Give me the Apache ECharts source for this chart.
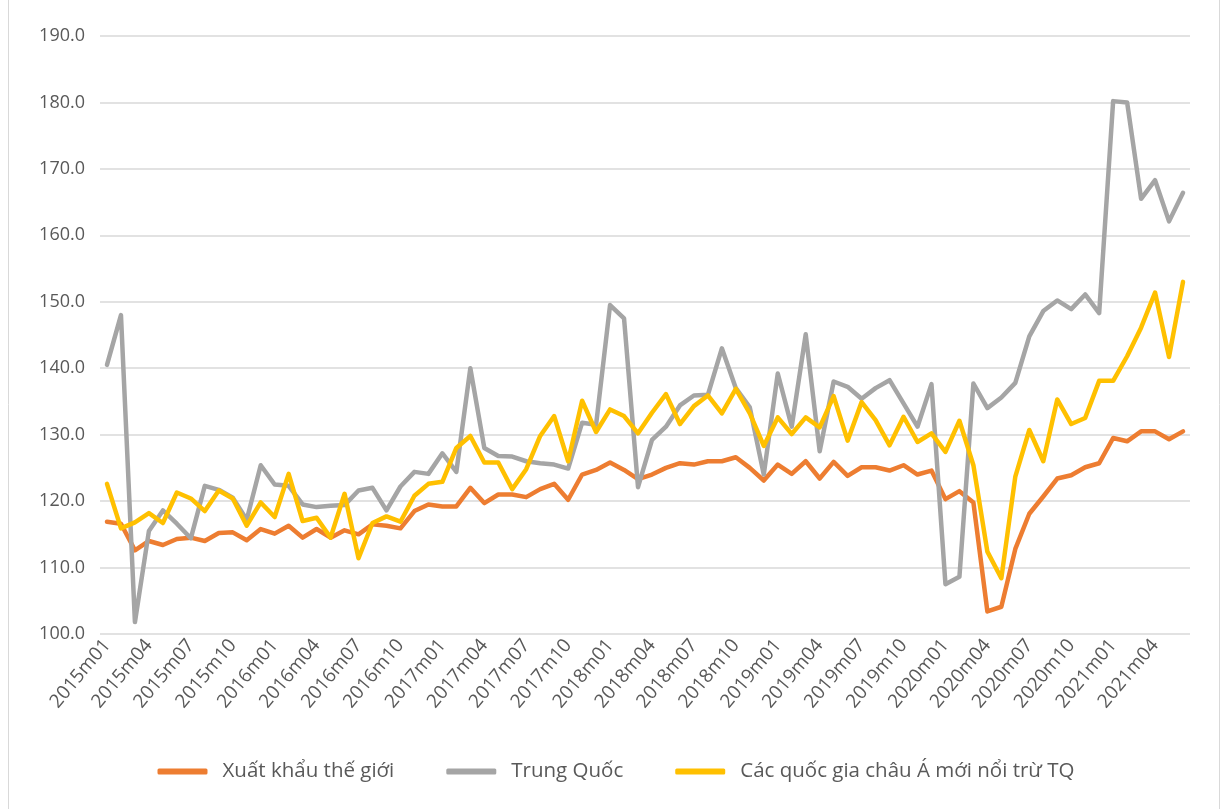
<!DOCTYPE html>
<html>
<head>
<meta charset="utf-8">
<script src="https://cdn.jsdelivr.net/npm/echarts@6/dist/echarts.min.js"></script>
<style>
  html, body { margin: 0; padding: 0; background: #fff; }
  #chart { width: 1232px; height: 809px; }
</style>
</head>
<body>
<div id="chart"></div>
<script>
// thang: 2015m01 .. 2021m06
const months = [];
for (let y = 2015; y <= 2021; y++) {
  for (let m = 1; m <= 12; m++) {
    if (y === 2021 && m > 6) break;
    months.push(y + 'm' + (m < 10 ? '0' + m : m));
  }
}

const seriesNames = ['Xuất khẩu thế giới', 'Trung Quốc', 'Các quốc gia châu Á mới nổi trừ TQ'];

const worldExport = [
  116.9, 116.6, 112.6, 114.0, 113.4, 114.3, 114.5, 114.0, 115.2, 115.3,
  114.1, 115.8, 115.1, 116.3, 114.5, 115.8, 114.5, 115.6, 115.0, 116.5,
  116.3, 115.9, 118.5, 119.5, 119.2, 119.2, 122.0, 119.7, 121.0, 121.0,
  120.6, 121.8, 122.6, 120.2, 124.0, 124.7, 125.8, 124.7, 123.3, 124.0,
  125.0, 125.7, 125.5, 126.0, 126.0, 126.6, 125.0, 123.1, 125.5, 124.1,
  126.0, 123.4, 125.9, 123.8, 125.1, 125.1, 124.6, 125.4, 124.0, 124.6,
  120.3, 121.5, 119.8, 103.4, 104.1, 112.8, 118.1, 120.7, 123.4, 123.9,
  125.1, 125.7, 129.5, 129.0, 130.5, 130.5, 129.3, 130.5
];

const china = [
  140.5, 148.0, 101.8, 115.5, 118.6, 116.6, 114.4, 122.3, 121.7, 120.5,
  117.2, 125.4, 122.5, 122.3, 119.5, 119.1, 119.3, 119.4, 121.6, 122.0,
  118.6, 122.2, 124.4, 124.1, 127.2, 124.4, 140.0, 128.0, 126.8, 126.7,
  126.0, 125.7, 125.5, 124.9, 131.8, 131.5, 149.5, 147.5, 122.1, 129.2,
  131.2, 134.4, 135.9, 136.0, 143.0, 137.0, 134.1, 124.0, 139.2, 131.2,
  145.1, 127.5, 138.0, 137.2, 135.4, 137.0, 138.2, 134.7, 131.2, 137.6,
  107.5, 108.6, 137.7, 134.0, 135.6, 137.8, 144.8, 148.6, 150.2, 148.9,
  151.1, 148.3, 180.2, 180.0, 165.5, 168.3, 162.1, 166.4
];

const asiaExChina = [
  122.6, 115.9, 116.8, 118.2, 116.7, 121.3, 120.4, 118.5, 121.6, 120.4,
  116.3, 119.8, 117.6, 124.1, 117.0, 117.5, 114.5, 121.1, 111.4, 116.7,
  117.7, 116.9, 120.8, 122.6, 122.9, 128.0, 129.8, 125.8, 125.8, 121.8,
  124.8, 129.8, 132.8, 126.0, 135.1, 130.4, 133.8, 132.8, 130.2, 133.3,
  136.1, 131.6, 134.3, 135.9, 133.2, 136.9, 133.2, 128.3, 132.6, 130.1,
  132.6, 131.1, 135.8, 129.1, 134.9, 132.2, 128.4, 132.7, 128.9, 130.2,
  127.4, 132.1, 125.4, 112.4, 108.4, 123.7, 130.7, 126.0, 135.3, 131.6,
  132.5, 138.1, 138.1, 141.8, 146.1, 151.4, 141.7, 153.0
];

const colors = ['#ED7D31', '#A5A5A5', '#FFC000'];
const fontFamily = '"Open Sans", "Noto Sans", sans-serif';
const textColor = '#595959';

const chart = echarts.init(document.getElementById('chart'), null, { renderer: 'canvas' });

function lineSeries(name, data, color) {
  return {
    name: name,
    type: 'line',
    data: data,
    symbol: 'none',
    smooth: false,
    lineStyle: { color: color, width: 4.5, cap: 'round', join: 'round' },
    itemStyle: { color: color }
  };
}

const option = {
  animation: false,
  backgroundColor: '#fff',
  color: colors,
  textStyle: { fontFamily: fontFamily },
  grid: { left: 100, right: 42, top: 36, bottom: 175, containLabel: false },
  legend: {
    bottom: 22,
    left: 'center',
    icon: 'roundRect',
    itemWidth: 50,
    itemHeight: 6,
    itemGap: 52,
    textStyle: { color: textColor, fontSize: 20.5, fontFamily: fontFamily, padding: [0, 0, 0, 10] },
    data: seriesNames
  },
  xAxis: {
    type: 'category',
    data: months,
    boundaryGap: true,
    axisLine: { show: false },
    axisTick: { show: false },
    axisLabel: {
      interval: 2,
      rotate: 50,
      color: textColor,
      fontSize: 19,
      fontFamily: fontFamily,
      margin: 8
    },
    splitLine: { show: false }
  },
  yAxis: {
    type: 'value',
    min: 100,
    max: 190,
    interval: 10,
    axisLine: { show: false },
    axisTick: { show: false },
    axisLabel: {
      color: textColor,
      fontSize: 18,
      fontFamily: fontFamily,
      margin: 15,
      formatter: (v) => v.toFixed(1)
    },
    splitLine: { lineStyle: { color: '#d9d9d9', width: 1.5 } }
  },
  graphic: [
    {
      type: 'rect',
      silent: true,
      shape: { x: 8.5, y: -2, width: 1211, height: 813 },
      style: { fill: 'none', stroke: '#d9d9d9', lineWidth: 1 }
    }
  ],
  series: [
    lineSeries(seriesNames[0], worldExport, colors[0]),
    lineSeries(seriesNames[1], china, colors[1]),
    lineSeries(seriesNames[2], asiaExChina, colors[2])
  ]
};

chart.setOption(option);
</script>
</body>
</html>
